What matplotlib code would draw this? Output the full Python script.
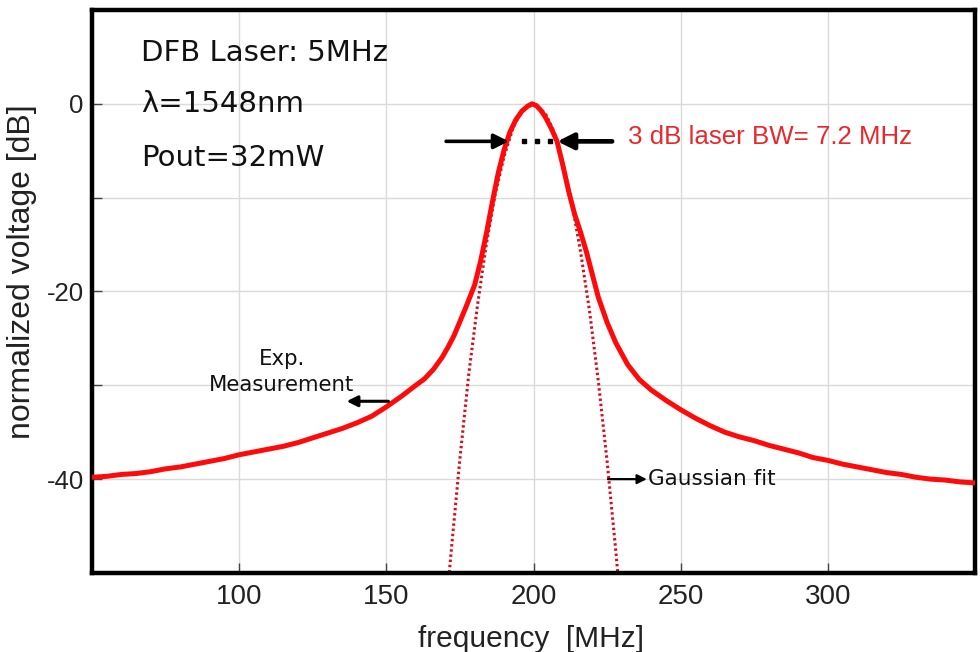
import matplotlib
matplotlib.use("Agg")
import matplotlib.pyplot as plt
from matplotlib.ticker import MultipleLocator, FuncFormatter

freq = [50, 55, 60, 65, 70, 75, 80, 85, 90, 95, 100, 105, 110, 115, 120, 125,
        130, 135, 140, 145, 150, 155, 160, 163, 166, 169, 171, 173, 175, 177,
        180, 182, 184, 186, 188, 190, 192, 194, 196, 198, 199.5, 201, 202.5,
        204, 206, 208, 210, 212, 214, 216, 218, 220, 222, 225, 228, 232, 236,
        240, 245, 250, 255, 260, 265, 270, 275, 280, 285, 290, 295, 300, 305,
        310, 315, 320, 325, 330, 335, 340, 345, 350]
meas_db = [-39.8, -39.7, -39.5, -39.4, -39.2, -38.9, -38.7, -38.4, -38.1, -37.8,
           -37.4, -37.1, -36.8, -36.5, -36.1, -35.6, -35.1, -34.6, -34.0, -33.3,
           -32.3, -31.2, -30.0, -29.3, -28.3, -27.0, -25.9, -24.7, -23.2, -21.7,
           -19.3, -16.8, -13.8, -10.5, -7.4, -4.9, -3.0, -1.7, -0.8, -0.25, 0.0,
           -0.2, -0.7, -1.4, -2.6, -4.0, -6.6, -9.4, -11.8, -13.7, -15.8, -18.2,
           -20.6, -23.3, -25.5, -27.8, -29.4, -30.5, -31.6, -32.6, -33.5, -34.3,
           -35.0, -35.5, -35.9, -36.4, -36.8, -37.2, -37.7, -38.0, -38.4, -38.7,
           -39.0, -39.3, -39.5, -39.8, -40.0, -40.1, -40.3, -40.4]

# gaussian fit curve
fit_freq = [170, 172, 175, 178, 181, 184, 187, 190, 193, 196, 200,
            204, 207, 210, 213, 216, 219, 222, 225, 228, 230]
fit_db = [-54.9, -47.8, -37.8, -28.8, -21.4, -14.9, -9.6, -5.6, -2.6, -0.7, 0.0,
          -1.0, -3.0, -6.3, -10.5, -15.8, -22.0, -29.5, -38.1, -47.8, -54.9]

xticks = [100, 150, 200, 250, 300]

RED = "#ff0a0a"

fig = plt.figure(figsize=(9.8, 6.52), dpi=100)
ax = fig.add_axes([0.0939, 0.1212, 0.901, 0.8635])

ax.plot(fit_freq, fit_db, color="#d3101e", lw=2.2, ls=(0, (0.8, 0.9)), zorder=2)
ax.plot(freq, meas_db, color=RED, lw=3.6, zorder=3, solid_joinstyle="round")

ax.set_xlim(50, 350)
ax.set_ylim(-50, 10)

ax.set_xticks(xticks)
ax.yaxis.set_major_locator(MultipleLocator(10))
ax.yaxis.set_major_formatter(FuncFormatter(lambda v, p: "%d" % v if int(v) % 20 == 0 else ""))

ax.grid(True, color="#dadada", lw=1.0)
ax.set_axisbelow(True)

ax.tick_params(axis="both", direction="in", length=7, width=1, color="#444444")
ax.tick_params(axis="x", labelsize=20, pad=8, labelcolor="#222222")
ax.tick_params(axis="y", labelsize=18.5, pad=6, labelcolor="#222222")
for lab in ax.get_xticklabels() + ax.get_yticklabels():
    lab.set_family("Liberation Sans")

for sp in ax.spines.values():
    sp.set_linewidth(3.2)
    sp.set_color("black")

ax.set_xlabel("frequency  [MHz]", fontsize=21.5, family="Liberation Sans", color="#222222")
ax.xaxis.set_label_coords(0.497, -0.092)
ax.set_ylabel("normalized voltage [dB]", fontsize=23, family="Liberation Sans", color="#222222")
ax.yaxis.set_label_coords(-0.062, 0.535)

# info text
ax.text(66.6, 4.6, "DFB Laser: 5MHz", fontsize=21, color="#111111", va="baseline")
ax.text(66.6, -0.86, "λ=1548nm", fontsize=21, color="#111111", va="baseline")
ax.text(66.6, -6.6, "Pout=32mW", fontsize=21, color="#111111", va="baseline")

# bandwidth marker
ax.text(232.1, -4.3, "3 dB laser BW= 7.2 MHz", fontsize=18.6, color="#e8282c",
        family="Liberation Sans", va="baseline")
ax.annotate("", xy=(191.6, -4.0), xytext=(170.3, -4.0),
            arrowprops=dict(arrowstyle="-|>", color="black", lw=2.6, mutation_scale=22,
                            shrinkA=0, shrinkB=0), zorder=5)
ax.annotate("", xy=(208.1, -4.0), xytext=(226.7, -4.0),
            arrowprops=dict(arrowstyle="-|>", color="black", lw=3.4, mutation_scale=24,
                            shrinkA=0, shrinkB=0), zorder=5)
ax.plot([196.6, 201.2, 205.6], [-4.0, -4.0, -4.0], ls="none", marker="s", ms=3.2,
        color="black", zorder=5)

# curve labels
ax.text(114.5, -27.8, "Exp.", fontsize=15.3, ha="center", va="baseline", color="#111111")
ax.text(114.5, -30.6, "Measurement", fontsize=15.3, ha="center", va="baseline", color="#111111")
ax.annotate("", xy=(136.5, -31.7), xytext=(150.7, -31.7),
            arrowprops=dict(arrowstyle="-|>", color="black", lw=2.2, mutation_scale=16,
                            shrinkA=0, shrinkB=0), zorder=5)
ax.text(238.9, -40.6, "Gaussian fit", fontsize=15.5, va="baseline", color="#111111")
ax.annotate("", xy=(238.5, -40.0), xytext=(225.3, -40.0),
            arrowprops=dict(arrowstyle="-|>", color="black", lw=1.6, mutation_scale=14,
                            shrinkA=0, shrinkB=0), zorder=5)

fig.savefig("out.png", dpi=100)
